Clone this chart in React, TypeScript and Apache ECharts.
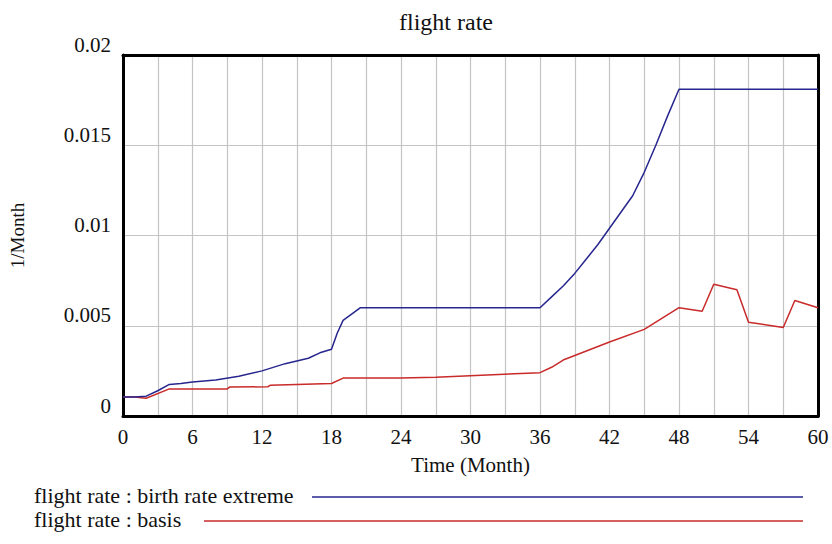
import React, { useEffect, useRef } from "react";
import * as echarts from "echarts";

const titleText = "flight rate";
const xAxisName = "Time (Month)";
const yAxisName = "1/Month";
const seriesNames = ["flight rate : birth rate extreme", "flight rate : basis"];
const seriesColors = ["#26268e", "#c92a2a"];

const extremeTime = [0, 1, 2, 3, 4, 5, 6, 8, 10, 12, 14, 16, 17, 18, 18.5, 19, 20.5, 36, 37, 38, 39, 40, 41, 42, 43, 44, 45, 46, 47, 48, 60];
const extremeValue = [0.00105, 0.00105, 0.0011, 0.0014, 0.00175, 0.0018, 0.00188, 0.002, 0.0022, 0.0025, 0.0029, 0.0032, 0.0035, 0.0037, 0.0046, 0.0053, 0.006, 0.006, 0.0066, 0.0072, 0.0079, 0.0087, 0.0095, 0.0104, 0.0113, 0.0122, 0.0135, 0.015, 0.0166, 0.0181, 0.0181];

const basisTime = [0, 1, 2, 4, 9, 9.2, 12.5, 12.7, 18, 19, 24, 27, 36, 37, 38, 42, 45, 48, 50, 51, 53, 54, 57, 58, 60];
const basisValue = [0.00105, 0.00105, 0.00098, 0.0015, 0.0015, 0.0016, 0.00162, 0.0017, 0.0018, 0.0021, 0.0021, 0.00215, 0.0024, 0.0027, 0.0031, 0.0041, 0.0048, 0.006, 0.0058, 0.0073, 0.007, 0.0052, 0.0049, 0.0064, 0.006];

const xMin = 0;
const xMax = 60;
const xGridStep = 3;
const xLabelStep = 6;
const yMin = 0;
const yMax = 0.02;
const yStep = 0.005;

const FONT = "Liberation Serif, Times New Roman, serif";

export default function App() {
  const ref = useRef<HTMLDivElement>(null);
  useEffect(() => {
    if (!ref.current) return;
    const chart = echarts.init(ref.current, null, { renderer: "svg" });
    const pair = (t: number[], v: number[]) => t.map((x, i) => [x, v[i]]);
    const legendRows = [
      { y: 497, lineStart: 312 },
      { y: 521, lineStart: 204 },
    ];
    const graphic: any[] = [];
    seriesNames.forEach((name, i) => {
      graphic.push({
        type: "text",
        left: 34,
        top: legendRows[i].y - 13,
        style: {
          text: name,
          font: "22px Liberation Serif",
          fontFamily: "Liberation Serif",
          fontSize: 22,
          fill: "#111",
        },
      });
      graphic.push({
        type: "line",
        shape: { x1: legendRows[i].lineStart, y1: legendRows[i].y, x2: 803, y2: legendRows[i].y },
        style: { stroke: seriesColors[i], lineWidth: 1.5 },
      });
    });
    chart.setOption({
      animation: false,
      backgroundColor: "#fff",
      textStyle: { fontFamily: FONT },
      title: {
        text: titleText,
        left: 441,
        top: 5,
        textAlign: "center",
        textStyle: { fontFamily: FONT, fontSize: 24, fontWeight: "normal", color: "#111" },
      },
      grid: { left: 119, top: 55, right: 14, bottom: 128, containLabel: false },
      xAxis: [
        {
          type: "value",
          min: xMin,
          max: xMax,
          interval: xGridStep,
          name: xAxisName,
          nameLocation: "middle",
          nameGap: 38,
          nameTextStyle: { fontFamily: FONT, fontSize: 21, color: "#111" },
          axisLine: { show: true, onZero: false, lineStyle: { color: "#000", width: 3 } },
          axisTick: { show: false },
          axisLabel: {
            fontFamily: FONT,
            fontSize: 21,
            color: "#111",
            margin: 10,
            formatter: (v: number) => (v % xLabelStep === 0 ? String(v) : ""),
          },
          splitLine: { show: true, lineStyle: { color: "#c4c4c4", width: 1.2 } },
        },
        {
          type: "value",
          position: "top",
          min: xMin,
          max: xMax,
          interval: xGridStep,
          axisLine: { show: true, onZero: false, lineStyle: { color: "#000", width: 3 } },
          axisTick: { show: false },
          axisLabel: { show: false },
          splitLine: { show: false },
        },
      ],
      yAxis: [
        {
          type: "value",
          min: yMin,
          max: yMax,
          interval: yStep,
          name: yAxisName,
          nameLocation: "middle",
          nameGap: 96,
          nameRotate: 90,
          nameTextStyle: { fontFamily: FONT, fontSize: 19, color: "#111" },
          axisLine: { show: true, onZero: false, lineStyle: { color: "#000", width: 3 } },
          axisTick: { show: false },
          axisLabel: {
            fontFamily: FONT,
            fontSize: 21,
            color: "#111",
            margin: 12,
            verticalAlign: "bottom",
            formatter: (v: number) => String(+v.toFixed(3)),
          },
          splitLine: { show: true, lineStyle: { color: "#c4c4c4", width: 1.2 } },
        },
        {
          type: "value",
          position: "right",
          min: yMin,
          max: yMax,
          interval: yStep,
          axisLine: { show: true, onZero: false, lineStyle: { color: "#000", width: 3 } },
          axisTick: { show: false },
          axisLabel: { show: false },
          splitLine: { show: false },
        },
      ],
      series: [
        {
          name: seriesNames[0],
          type: "line",
          data: pair(extremeTime, extremeValue),
          showSymbol: false,
          lineStyle: { color: seriesColors[0], width: 1.5 },
          itemStyle: { color: seriesColors[0] },
          z: 3,
        },
        {
          name: seriesNames[1],
          type: "line",
          data: pair(basisTime, basisValue),
          showSymbol: false,
          lineStyle: { color: seriesColors[1], width: 1.5 },
          itemStyle: { color: seriesColors[1] },
          z: 2,
        },
      ],
      graphic,
    });
    return () => chart.dispose();
  }, []);
  return <div ref={ref} style={{ width: 832, height: 544, position: "absolute", left: 0, top: 0 }} />;
}
